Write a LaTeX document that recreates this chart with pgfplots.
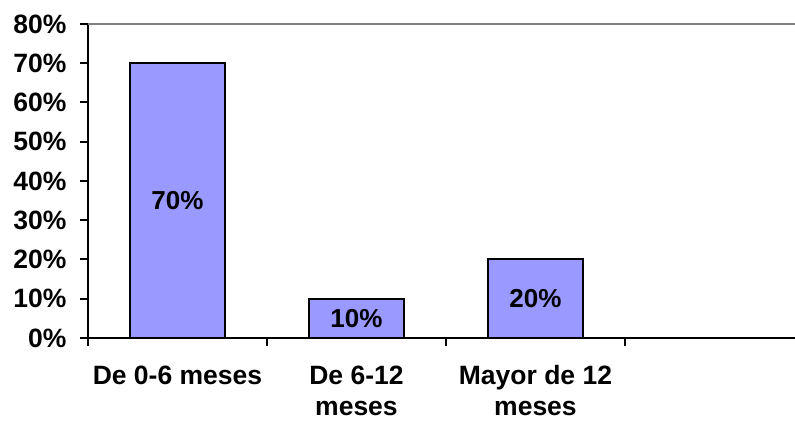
\documentclass[border=0pt]{standalone}
\usepackage{pgfplots}
\pgfplotsset{compat=1.18}
\usepackage{fontspec}
\setmainfont{Liberation Sans}
\definecolor{barblue}{RGB}{153,153,255}
\begin{document}
\begin{tikzpicture}
\begin{axis}[
    scale only axis,
    width=707pt, height=314pt,
    xmin=-0.5, xmax=3.45,
    ymin=0, ymax=80,
    axis x line*=bottom,
    axis y line*=left,
    axis line style={line width=2pt, black},
    ytick={0,10,...,80},
    yticklabel={\pgfmathprintnumber{\tick}\%},
    xtick={0,1,2},
    xticklabels={De 0-6 meses, {De 6-12\\meses}, {Mayor de 12\\meses}},
    minor xtick={-0.5,0.5,1.5,2.5},
    major x tick style={draw=none},
    tick align=outside,
    major tick length=8pt,
    minor tick length=8pt,
    tick style={line width=2pt, black},
    ticklabel style={font=\fontsize{26.5}{31}\selectfont\bfseries},
    xticklabel style={align=center, yshift=-16pt},
    yticklabel style={xshift=-10pt},
    /pgf/number format/assume math mode=true,
]
\addplot[ybar, bar width=95pt, fill=barblue, draw=black, line width=2pt,
    visualization depends on=rawy \as \rawy,
    nodes near coords={\pgfmathprintnumber{\pgfplotspointmeta}\%},
    every node near coord/.append style={font=\fontsize{26}{31}\selectfont\bfseries,
        anchor=center, shift={(axis direction cs:0,-\rawy/2)}},
] coordinates {(0,70) (1,10) (2,20)};
\draw[gray, line width=2pt] (rel axis cs:0,1) -- (rel axis cs:1,1);
\coordinate (bl) at (rel axis cs:-0.12447,-0.2707);
\coordinate (tr) at (rel axis cs:1,1.07643);
\end{axis}
\pgfresetboundingbox
\path[use as bounding box] (bl) rectangle (tr);
\end{tikzpicture}
\end{document}
